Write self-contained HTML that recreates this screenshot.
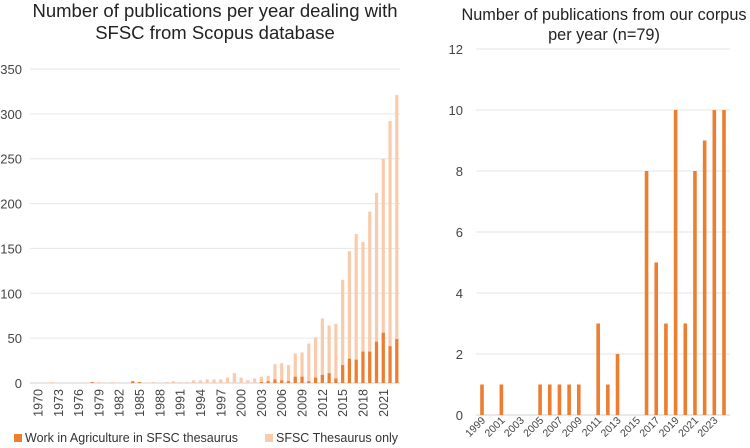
<!DOCTYPE html>
<html><head><meta charset="utf-8"><style>
body{margin:0;background:#fff;}
svg{display:block;font-family:"Liberation Sans",Arial,sans-serif;}
</style></head><body>
<svg id="c" width="750" height="448" xmlns="http://www.w3.org/2000/svg">
<text x="215" y="17" font-size="18.5" text-anchor="middle" fill="#222">Number of publications per year dealing with</text>
<text x="215" y="39" font-size="18.5" text-anchor="middle" fill="#222">SFSC from Scopus database</text>
<text x="604" y="20" font-size="16.3" text-anchor="middle" fill="#222">Number of publications from our corpus</text>
<text x="604" y="40" font-size="16.3" text-anchor="middle" fill="#222">per year (n=79)</text>
<g id="L"></g><g id="R"></g>
<rect x="14" y="434" width="8" height="8" fill="#ed7d31"/>
<text x="25" y="442" font-size="12.5" fill="#333">Work in Agriculture in SFSC thesaurus</text>
<rect x="265" y="434" width="8" height="8" fill="#f8cbad"/>
<text x="276" y="442" font-size="12.5" fill="#333">SFSC Thesaurus only</text>
</svg>
<script>
const leftYears=[];for(let y=1970;y<=2023;y++)leftYears.push(y);
const leftTotal=[0,0,0,1,0,0,0,0,0,1,1,0,1,0,0,2,1,0,1,0,1,2,1,1,3,3,4,4,4,6,11,6,3,5,7,8,21,22,20,33,34,44,51,72,64,66,115,147,166,157,191,212,250,292,321];
const leftAgri=[0,0,0,0,0,0,0,0,0,1,0,0,0,0,0,2,1,0,0,0,0,0,0,0,0,0,0,0,0,0,0,0,0,0,1,2,4,3,2,7,7,2,6,9,11,5,20,27,26,35,35,46,56,41,49];
const leftTicks=[0,50,100,150,200,250,300,350];
const rightYears=[];for(let y=1999;y<=2024;y++)rightYears.push(y);
const rightVals=[1,0,1,0,0,0,1,1,1,1,1,0,3,1,2,0,0,8,5,3,10,3,8,9,10,10];
const rightTicks=[0,2,4,6,8,10,12];
const NS="http://www.w3.org/2000/svg";
function mk(t,a,p){const e=document.createElementNS(NS,t);for(const k in a)e.setAttribute(k,a[k]);p.appendChild(e);return e;}
const L=document.getElementById('L');
const lx=i=>38+i*6.77, ly=v=>383-v*(314/350);
const lt=leftTotal.slice(leftTotal.length-leftYears.length);
const la=leftAgri.slice(leftAgri.length-leftYears.length);
leftTicks.forEach(t=>{const g=mk('line',{x1:30,x2:400,y1:ly(t),y2:ly(t),stroke:t?'#e6e6e6':'#d0d0d0'},L);

const tx=mk('text',{x:22,y:ly(t)+5,'font-size':13,'text-anchor':'end',fill:'#444'},L);tx.textContent=t;
});
leftYears.forEach((yr,i)=>{const x=lx(i);
const b1=mk('rect',{x:x-1.6,y:ly(lt[i]),width:3.2,height:ly(0)-ly(lt[i]),fill:'#f8cbad'},L);

const b2=mk('rect',{x:x-1.6,y:ly(la[i]),width:3.2,height:ly(0)-ly(la[i]),fill:'#ed7d31'},L);

if((yr-1970)%3===0){const t=mk('text',{x:0,y:0,'font-size':12.5,'text-anchor':'end',fill:'#444',transform:`translate(${x+4.5},${389}) rotate(-90)`},L);t.textContent=yr;
}});
const R=document.getElementById('R');
const rx=i=>482+i*9.68, ry=v=>415-v*(305/10);
rightTicks.forEach(t=>{const g=mk('line',{x1:476,x2:730,y1:ry(t),y2:ry(t),stroke:t?'#e6e6e6':'#d0d0d0'},R);

const tx=mk('text',{x:463,y:ry(t)+5,'font-size':13,'text-anchor':'end',fill:'#444'},R);tx.textContent=t;
});
rightYears.forEach((yr,i)=>{const x=rx(i);
if(rightVals[i]>0){const b=mk('rect',{x:x-1.8,y:ry(rightVals[i]),width:3.6,height:ry(0)-ry(rightVals[i]),fill:'#ed7d31'},R);
}
if((yr-1999)%2===0){const t=mk('text',{x:0,y:0,'font-size':10.5,'text-anchor':'end',fill:'#444',transform:`translate(${x+4},${421}) rotate(-45)`},R);t.textContent=yr;
}});
</script>
</body></html>
